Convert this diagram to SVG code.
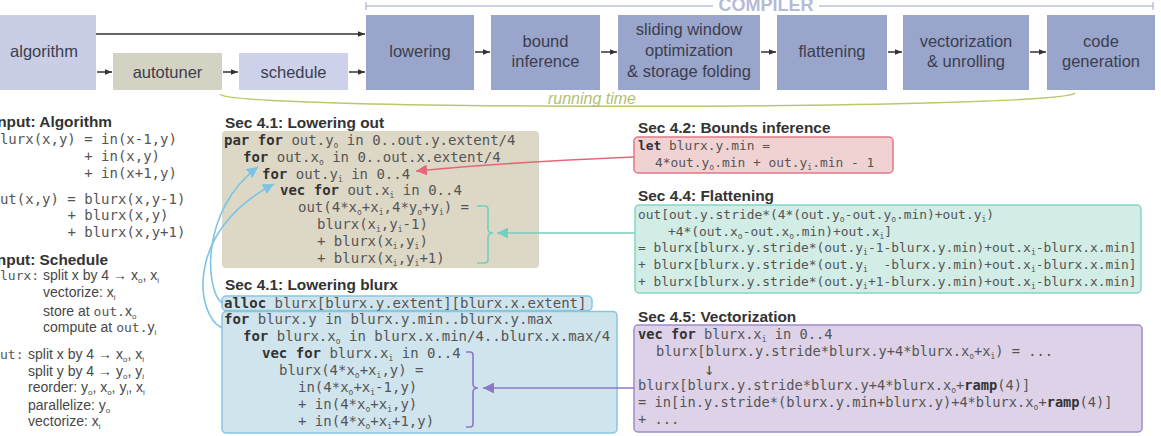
<svg xmlns="http://www.w3.org/2000/svg" width="1161" height="436" viewBox="0 0 1161 436">
<defs>
<style>
.lbl{font-family:"Liberation Sans",Arial,sans-serif;font-size:16.5px;fill:#3a3e4e;text-anchor:middle}
.ttl{font-family:"Liberation Sans",Arial,sans-serif;font-size:15.4px;font-weight:bold;fill:#333}
.sch{font-family:"Liberation Sans",Arial,sans-serif;font-size:14px;fill:#474747}
.m{font-family:"DejaVu Sans Mono",monospace;fill:#555}
.m14{font-size:14px}
.m13{font-size:12.9px}
.m137{font-size:13.7px}
.msch{font-size:13px}
.kw{font-weight:bold;fill:#333}
.s{font-size:8px;baseline-shift:-3px}
.dk{stroke:#333;stroke-width:1.5;fill:none}
.blue{stroke:#7dc3e3;stroke-width:1.6;fill:none}
</style>
<marker id="ah" viewBox="0 0 10 10" refX="10" refY="5" markerWidth="7" markerHeight="7" orient="auto" markerUnits="userSpaceOnUse"><path d="M0,1 L10,5 L0,9 z" fill="#333"/></marker>
<marker id="ahr" viewBox="0 0 10 10" refX="10" refY="5" markerWidth="11" markerHeight="11" orient="auto" markerUnits="userSpaceOnUse"><path d="M0,0 L10,5 L0,10 z" fill="#e3687a"/></marker>
<marker id="aht" viewBox="0 0 10 10" refX="10" refY="5" markerWidth="11" markerHeight="11" orient="auto" markerUnits="userSpaceOnUse"><path d="M0,0 L10,5 L0,10 z" fill="#74cfc0"/></marker>
<marker id="ahp" viewBox="0 0 10 10" refX="10" refY="5" markerWidth="11" markerHeight="11" orient="auto" markerUnits="userSpaceOnUse"><path d="M0,0 L10,5 L0,10 z" fill="#8f76cb"/></marker>
<marker id="ahb" viewBox="0 0 10 10" refX="10" refY="5" markerWidth="11" markerHeight="11" orient="auto" markerUnits="userSpaceOnUse"><path d="M0,0 L10,5 L0,10 z" fill="#7dc3e3"/></marker>
</defs>
<rect width="1161" height="436" fill="#ffffff"/>

<g id="compiler-label">
<path d="M366,6 H713 M819,6 H1153 M366,2 V10 M1153,2 V10" stroke="#9aa3c8" stroke-width="1" fill="none"/>
<text x="766" y="11" text-anchor="middle" style="font-family:'Liberation Sans',Arial,sans-serif;font-size:18px;font-weight:bold;fill:#b4bbd6">COMPILER</text>
</g>

<g id="algorithm"><rect x="0" y="15" width="96" height="75" fill="#c9cde6"/><text class="lbl" x="44" y="56.5">algorithm</text></g>
<g id="autotuner"><rect x="113" y="53" width="109" height="37" fill="#d4d2c3"/><text class="lbl" x="167.5" y="77.5">autotuner</text></g>
<g id="schedule"><rect x="239" y="53" width="109" height="37" fill="#cdd1ea"/><text class="lbl" x="293.5" y="77.5">schedule</text></g>
<g id="lowering"><rect x="366" y="15" width="108" height="75" fill="#9aa5cc"/><text class="lbl" x="420" y="56.5">lowering</text></g>
<g id="bound-inference"><rect x="491" y="15" width="109" height="75" fill="#9aa5cc"/><text class="lbl" x="545.5" y="46.5">bound</text><text class="lbl" x="545.5" y="66.5">inference</text></g>
<g id="sliding-window"><rect x="618" y="15" width="142" height="75" fill="#9aa5cc"/><text class="lbl" x="689" y="35">sliding window</text><text class="lbl" x="689" y="56">optimization</text><text class="lbl" x="689" y="77">&amp; storage folding</text></g>
<g id="flattening"><rect x="777" y="15" width="110" height="75" fill="#9aa5cc"/><text class="lbl" x="832" y="56.5">flattening</text></g>
<g id="vectorization"><rect x="903" y="15" width="126" height="75" fill="#9aa5cc"/><text class="lbl" x="966" y="46.5">vectorization</text><text class="lbl" x="966" y="66.5">&amp; unrolling</text></g>
<g id="code-generation"><rect x="1047" y="15" width="108" height="75" fill="#9aa5cc"/><text class="lbl" x="1101" y="46.5">code</text><text class="lbl" x="1101" y="66.5">generation</text></g>

<g id="input-algorithm">
<text class="ttl" x="112" y="127" text-anchor="end">Input: Algorithm</text>
<text class="m m14" x="-8.5" y="144">blurx(x,y) = in(x-1,y)</text>
<text class="m m14" x="84.2" y="161">+ in(x,y)</text>
<text class="m m14" x="84.2" y="177.5">+ in(x+1,y)</text>
<text class="m m14" x="-8.5" y="204">out(x,y) = blurx(x,y-1)</text>
<text class="m m14" x="67.4" y="220">+ blurx(x,y)</text>
<text class="m m14" x="67.4" y="236.5">+ blurx(x,y+1)</text>
</g>

<g id="input-schedule">
<text class="ttl" x="108" y="265" text-anchor="end">Input: Schedule</text>
<text class="m msch" x="-7.8" y="280">blurx:</text>
<text class="sch" x="43" y="280">split x by 4 → x<tspan class="s">o</tspan>, x<tspan class="s">i</tspan></text>
<text class="sch" x="43" y="297">vectorize: x<tspan class="s">i</tspan></text>
<text class="sch" x="43" y="316">store at <tspan class="m msch">out.</tspan>x<tspan class="s">o</tspan></text>
<text class="sch" x="43" y="332">compute at <tspan class="m msch">out.</tspan>y<tspan class="s">i</tspan></text>
<text class="m msch" x="-7.8" y="359">out:</text>
<text class="sch" x="28" y="359">split x by 4 → x<tspan class="s">o</tspan>, x<tspan class="s">i</tspan></text>
<text class="sch" x="28" y="376">split y by 4 → y<tspan class="s">o</tspan>, y<tspan class="s">i</tspan></text>
<text class="sch" x="28" y="392">reorder: y<tspan class="s">o</tspan>, x<tspan class="s">o</tspan>, y<tspan class="s">i</tspan>, x<tspan class="s">i</tspan></text>
<text class="sch" x="28" y="410">parallelize: y<tspan class="s">o</tspan></text>
<text class="sch" x="28" y="426">vectorize: x<tspan class="s">i</tspan></text>
</g>

<g id="lowering-out">
<text class="ttl" x="225" y="128">Sec 4.1: Lowering out</text>
<rect x="222" y="131" width="317" height="137" rx="4" fill="#ddd7c6"/>
<text class="m m14" x="224" y="145"><tspan class="kw">par for</tspan> out.y<tspan class="s">o</tspan> in 0..out.y.extent/4</text>
<text class="m m14" x="243" y="161.8"><tspan class="kw">for</tspan> out.x<tspan class="s">o</tspan> in 0..out.x.extent/4</text>
<text class="m m14" x="262" y="178.6"><tspan class="kw">for</tspan> out.y<tspan class="s">i</tspan> in 0..4</text>
<text class="m m14" x="280" y="195.4"><tspan class="kw">vec for</tspan> out.x<tspan class="s">i</tspan> in 0..4</text>
<text class="m m14" x="298" y="212.2">out(4*x<tspan class="s">o</tspan>+x<tspan class="s">i</tspan>,4*y<tspan class="s">o</tspan>+y<tspan class="s">i</tspan>) =</text>
<text class="m m14" x="317" y="229">blurx(x<tspan class="s">i</tspan>,y<tspan class="s">i</tspan>-1)</text>
<text class="m m14" x="317" y="245.8">+ blurx(x<tspan class="s">i</tspan>,y<tspan class="s">i</tspan>)</text>
<text class="m m14" x="317" y="262.6">+ blurx(x<tspan class="s">i</tspan>,y<tspan class="s">i</tspan>+1)</text>
<path d="M477,206 H485 Q488,206 488,209 V229 Q488,233 493,233 Q488,233 488,237 V260 Q488,263 485,263 H477" stroke="#74cfc0" stroke-width="1.6" fill="none"/>
</g>

<g id="lowering-blurx">
<text class="ttl" x="225" y="290">Sec 4.1: Lowering blurx</text>
<rect x="222" y="296" width="370" height="14.5" rx="4" fill="#cfe4ec" stroke="#86c6e0" stroke-width="1.5"/>
<text class="m m14" x="224" y="308"><tspan class="kw">alloc</tspan> blurx[blurx.y.extent][blurx.x.extent]</text>
<rect x="222" y="311.5" width="395" height="121.5" rx="4" fill="#cfe4ec" stroke="#86c6e0" stroke-width="1.5"/>
<text class="m m14" x="224" y="324"><tspan class="kw">for</tspan> blurx.y in blurx.y.min..blurx.y.max</text>
<text class="m m14" x="243" y="341"><tspan class="kw">for</tspan> blurx.x<tspan class="s">o</tspan> in blurx.x.min/4..blurx.x.max/4</text>
<text class="m m14" x="262" y="358"><tspan class="kw">vec for</tspan> blurx.x<tspan class="s">i</tspan> in 0..4</text>
<text class="m m14" x="279" y="375">blurx(4*x<tspan class="s">o</tspan>+x<tspan class="s">i</tspan>,y) =</text>
<text class="m m14" x="298" y="392">in(4*x<tspan class="s">o</tspan>+x<tspan class="s">i</tspan>-1,y)</text>
<text class="m m14" x="298" y="409">+ in(4*x<tspan class="s">o</tspan>+x<tspan class="s">i</tspan>,y)</text>
<text class="m m14" x="298" y="426">+ in(4*x<tspan class="s">o</tspan>+x<tspan class="s">i</tspan>+1,y)</text>
<path d="M466,352 H470 Q473,352 473,355 V384 Q473,388 478,388 Q473,388 473,392 V424 Q473,427 470,427 H466" stroke="#8f76cb" stroke-width="1.6" fill="none"/>
</g>

<g id="bounds-inference">
<text class="ttl" x="638" y="133">Sec 4.2: Bounds inference</text>
<rect x="634" y="137" width="259" height="36" rx="4" fill="#f0d2d3" stroke="#e07a86" stroke-width="1.5"/>
<text class="m m13" x="638" y="150"><tspan class="kw">let</tspan> blurx.y.min =</text>
<text class="m m13" x="655" y="167">4*out.y<tspan class="s">o</tspan>.min + out.y<tspan class="s">i</tspan>.min - 1</text>
</g>

<g id="flattening-code">
<text class="ttl" x="638" y="201">Sec 4.4: Flattening</text>
<rect x="635" y="205" width="506" height="88" rx="4" fill="#d2ece6" stroke="#86d4c6" stroke-width="1.5"/>
<text class="m m13" x="638" y="219">out[out.y.stride*(4*(out.y<tspan class="s">o</tspan>-out.y<tspan class="s">o</tspan>.min)+out.y<tspan class="s">i</tspan>)</text>
<text class="m m13" x="668" y="236">+4*(out.x<tspan class="s">o</tspan>-out.x<tspan class="s">o</tspan>.min)+out.x<tspan class="s">i</tspan>]</text>
<text class="m m13" x="638" y="252">= blurx[blurx.y.stride*(out.y<tspan class="s">i</tspan>-1-blurx.y.min)+out.x<tspan class="s">i</tspan>-blurx.x.min]</text>
<text class="m m13" x="638" y="269" xml:space="preserve">+ blurx[blurx.y.stride*(out.y<tspan class="s">i</tspan>  -blurx.y.min)+out.x<tspan class="s">i</tspan>-blurx.x.min]</text>
<text class="m m13" x="638" y="286">+ blurx[blurx.y.stride*(out.y<tspan class="s">i</tspan>+1-blurx.y.min)+out.x<tspan class="s">i</tspan>-blurx.x.min]</text>
</g>

<g id="vectorization-code">
<text class="ttl" x="638" y="322">Sec 4.5: Vectorization</text>
<rect x="634" y="325" width="508" height="107" rx="4" fill="#ddd2e8" stroke="#a08ccc" stroke-width="1.5"/>
<text class="m m137" x="638" y="339"><tspan class="kw">vec for</tspan> blurx.x<tspan class="s">i</tspan> in 0..4</text>
<text class="m m137" x="656" y="356">blurx[blurx.y.stride*blurx.y+4*blurx.x<tspan class="s">o</tspan>+x<tspan class="s">i</tspan>) = ...</text>
<text class="m" x="704" y="375" style="font-size:17px">↓</text>
<text class="m m137" x="638" y="390">blurx[blurx.y.stride*blurx.y+4*blurx.x<tspan class="s">o</tspan>+<tspan class="kw">ramp</tspan>(4)]</text>
<text class="m m137" x="638" y="407">= in[in.y.stride*(blurx.y.min+blurx.y)+4*blurx.x<tspan class="s">o</tspan>+<tspan class="kw">ramp</tspan>(4)]</text>
<text class="m m137" x="638" y="424">+ ...</text>
</g>

<g id="connectors">
<path class="dk" d="M96,34 H365" marker-end="url(#ah)"/>
<path class="dk" d="M97,72 H112" marker-end="url(#ah)"/>
<path class="dk" d="M223,72 H238" marker-end="url(#ah)"/>
<path class="dk" d="M349,72 H365" marker-end="url(#ah)"/>
<path class="dk" d="M475,52 H490" marker-end="url(#ah)"/>
<path class="dk" d="M601,52 H617" marker-end="url(#ah)"/>
<path class="dk" d="M761,52 H776" marker-end="url(#ah)"/>
<path class="dk" d="M888,52 H902" marker-end="url(#ah)"/>
<path class="dk" d="M1030,52 H1046" marker-end="url(#ah)"/>
<path d="M220,94 C225,111 1060,110 1075,93" stroke="#b8c86a" stroke-width="1.5" fill="none"/>
<text x="592" y="104" text-anchor="middle" style="font-family:'Liberation Sans',Arial,sans-serif;font-size:16px;font-style:italic;fill:#b3bf70">running time</text>
<path d="M634,157 C560,160 480,165 416,171" stroke="#e3687a" stroke-width="1.6" fill="none" marker-end="url(#ahr)"/>
<path d="M635,233 H497" stroke="#74cfc0" stroke-width="1.6" fill="none" marker-end="url(#aht)"/>
<path d="M634,388 H483" stroke="#8f76cb" stroke-width="1.6" fill="none" marker-end="url(#ahp)"/>
<path class="blue" d="M222,303 C205,290 200,210 258,167" marker-end="url(#ahb)"/>
<path class="blue" d="M222,328 C195,315 185,230 274,184" marker-end="url(#ahb)"/>
</g>
</svg>
